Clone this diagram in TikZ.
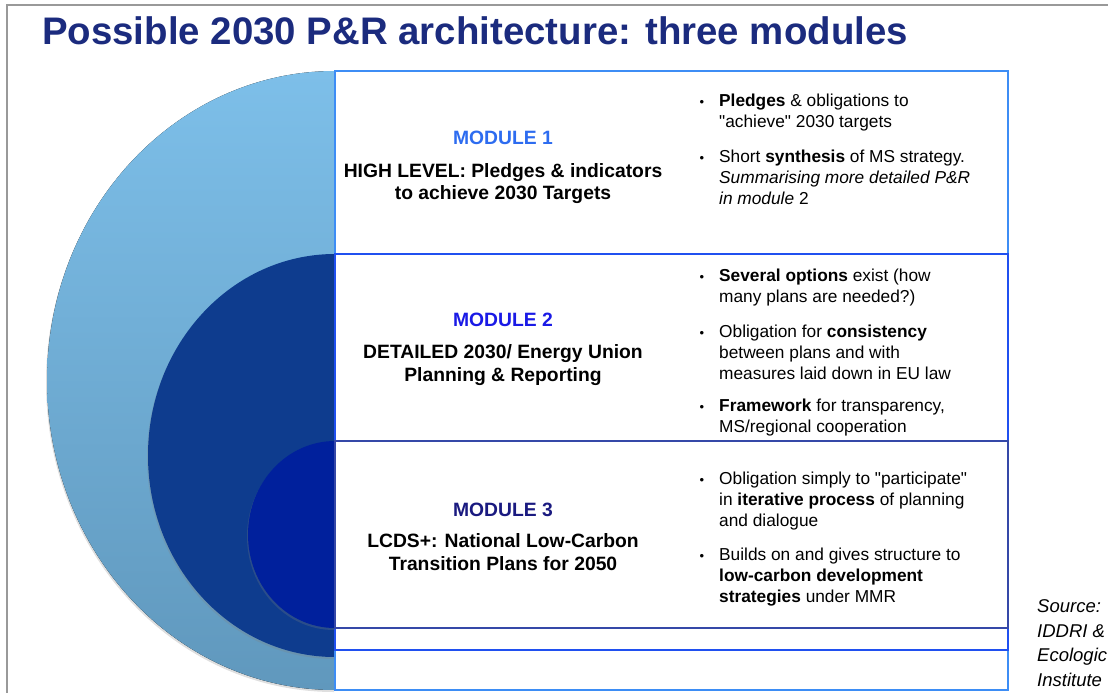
\documentclass[tikz,border=0pt]{standalone}
\usepackage{fontspec}
\setmainfont{Liberation Sans}[Ligatures=TeXOff]
\usetikzlibrary{shadows}
\definecolor{titleblue}{RGB}{27,43,126}
\definecolor{modone}{RGB}{45,108,240}
\definecolor{modtwo}{RGB}{26,26,230}
\definecolor{modthree}{RGB}{26,26,128}
\definecolor{lineone}{RGB}{61,141,245}
\definecolor{linetwo}{RGB}{32,80,240}
\definecolor{linethree}{RGB}{53,72,168}
\definecolor{outertop}{RGB}{125,191,233}
\definecolor{outerbot}{RGB}{96,152,189}
\definecolor{middleblue}{RGB}{14,60,142}
\definecolor{innerblue}{RGB}{0,32,156}

\begin{document}
\begin{tikzpicture}[x=1pt,y=-1pt,every node/.style={inner sep=0pt},
  module/.style={font=\fontsize{19.3}{23}\selectfont\bfseries},
  desc/.style={anchor=base,align=center,font=\fontsize{19.3}{22.5}\selectfont\bfseries},
  item/.style={anchor=base west,align=left,font=\fontsize{17.3}{21.3}\selectfont},
  dot/.style={anchor=base,font=\fontsize{13}{13}\selectfont},
  row/.style={fill=white,line width=2.4pt}]
\useasboundingbox (0,0) rectangle (1108,693);
\draw[gray!80,line width=2pt] (7,693) -- (7,5) -- (1108,5);

\node[anchor=base west,text=titleblue,font=\fontsize{38.4}{40}\selectfont\bfseries] (title) at (42,45) {Possible 2030 P\&R architecture: three modules};

% half ellipses
\fill[top color=outertop,bottom color=outerbot,drop shadow={shadow xshift=-1pt,shadow yshift=-2pt,opacity=0.25}]
  (335,71) arc[start angle=270,end angle=90,x radius=288,y radius=309.5] -- cycle;
\fill[middleblue,drop shadow={shadow xshift=-1pt,shadow yshift=-2pt,opacity=0.25}]
  (335,254) arc[start angle=270,end angle=90,x radius=187,y radius=201.5] -- cycle;
\fill[innerblue,drop shadow={shadow xshift=-1pt,shadow yshift=-2pt,opacity=0.25}]
  (335,441) arc[start angle=270,end angle=90,x radius=87,y radius=93.5] -- cycle;

% rows
\draw[row,draw=lineone] (335,71) rectangle (1008,254);
\draw[row,draw=linetwo] (335,254) rectangle (1008,441);
\draw[row,draw=lineone] (335,650) rectangle (1008,690);
\draw[row,draw=linetwo] (335,628) rectangle (1008,650);
\draw[row,draw=linethree] (335,441) rectangle (1008,628);

% module 1
\node[module,text=modone] (m1) at (503,138) {MODULE 1};
\node[desc] (d1) at (503,199.5) {HIGH LEVEL: Pledges \& indicators\\to achieve 2030 Targets};
\node[dot] (p11) at (702,106) {\textbullet};
\node[item] (t11) at (719,127.3) {\textbf{Pledges} \& obligations to\\"achieve" 2030 targets};
\node[dot] (p12) at (702,162) {\textbullet};
\node[item] (t12) at (719,204.6) {Short \textbf{synthesis} of MS strategy.\\\textit{Summarising more detailed P\&R}\\\textit{in module} 2};

% module 2
\node[module,text=modtwo] (m2) at (503,320) {MODULE 2};
\node[desc] (d2) at (503,381) {DETAILED 2030/ Energy Union\\Planning \& Reporting};
\node[dot] (p21) at (702,281) {\textbullet};
\node[item] (t21) at (719,302.3) {\textbf{Several options} exist (how\\many plans are needed?)};
\node[dot] (p22) at (702,337) {\textbullet};
\node[item] (t22) at (719,379.6) {Obligation for \textbf{consistency}\\between plans and with\\measures laid down in EU law};
\node[dot] (p23) at (702,411) {\textbullet};
\node[item] (t23) at (719,432.3) {\textbf{Framework} for transparency,\\MS/regional cooperation};

% module 3
\node[module,text=modthree] (m3) at (503,510) {MODULE 3};
\node[desc] (d3) at (503,570) {LCDS+: National Low-Carbon\\Transition Plans for 2050};
\node[dot] (p31) at (702,484) {\textbullet};
\node[item] (t31) at (719,526.6) {Obligation simply to "participate"\\in \textbf{iterative process} of planning\\and dialogue};
\node[dot] (p32) at (702,560) {\textbullet};
\node[item] (t32) at (719,602.6) {Builds on and gives structure to\\\textbf{low-carbon development}\\\textbf{strategies} under MMR};

\node[anchor=base west,align=left,font=\fontsize{18.5}{24.5}\selectfont\itshape] (src) at (1037,686) {Source:\\IDDRI \&\\Ecologic\\Institute};
\end{tikzpicture}
\end{document}
